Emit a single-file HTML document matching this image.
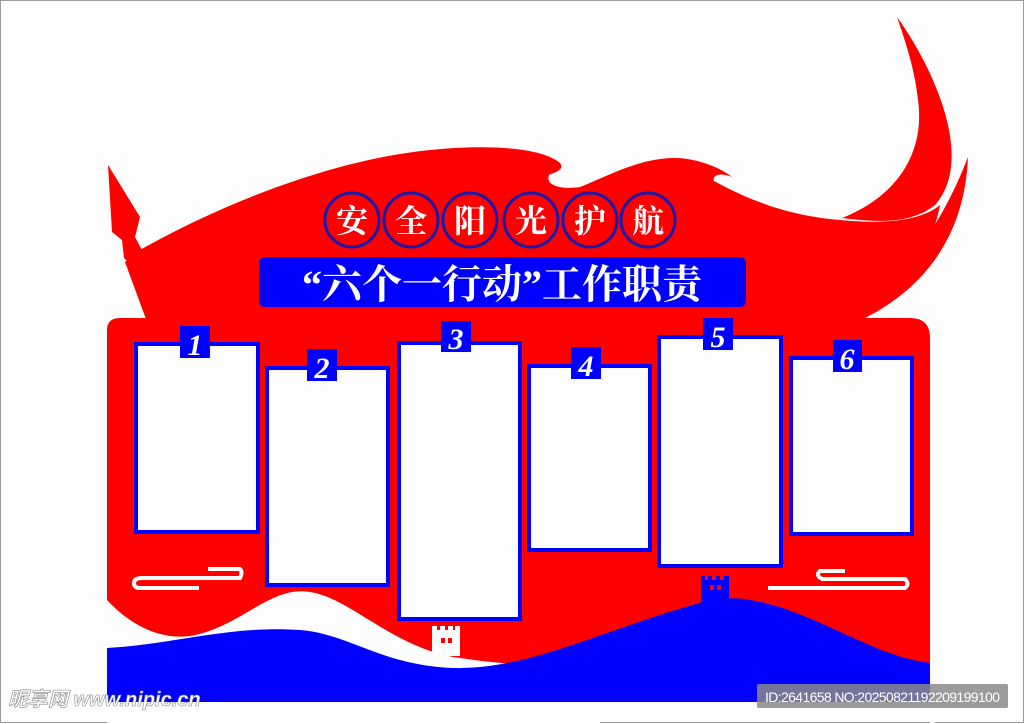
<!DOCTYPE html>
<html><head><meta charset="utf-8"><style>
html,body{margin:0;padding:0;background:#fdfdfd;}
body{width:1024px;height:724px;overflow:hidden;position:relative;font-family:"Liberation Serif","Noto Serif CJK SC",serif;}
</style></head><body>
<svg width="1024" height="724" viewBox="0 0 1024 724" xmlns="http://www.w3.org/2000/svg" style="position:absolute;left:0;top:0">
<rect x="0" y="0" width="1024" height="724" fill="#fdfdfd"/>
<rect x="0.5" y="0.5" width="1023" height="722" fill="none" stroke="#9a9a9a" stroke-width="1"/>
<!-- flame tail -->
<path d="M897,17 C935,70 975,160 935,205 C910,225 875,222 842,218 C900,195 925,150 918,100 C915,70 905,40 897,17 Z" fill="#ff0000"/>
<path d="M968,157 C965,230 930,285 865,318 L850,318 C900,280 940,230 968,157 Z" fill="#ff0000"/>
<!-- main flag body -->
<path d="M140,250 C220,205 330,160 430,150 C500,143 545,150 560,163 C565,170 555,172 549,175 C545,185 560,190 580,187 C610,175 640,158 675,158 C695,158 720,167 732,177 C720,172 712,175 714,181 C740,195 780,215 840,220 C880,224 920,222 940,205 C930,260 890,300 850,330 L150,330 L125,262 Z" fill="#ff0000"/>
<!-- spear -->
<path d="M108,165 L140,217 L135,237 L142,250 L128,262 L124,258 L122,240 L112,232 Z" fill="#ff0000"/>
<!-- main panel -->
<path d="M120,318 L910,318 Q930,318 930,338 L930,668 L107,668 L107,330 Q107,318 120,318 Z" fill="#ff0000"/>
<!-- white wave -->
<path d="M107,600 C130,625 160,640 190,636 C240,628 270,585 310,592 C350,598 390,645 453,657 C500,664 540,668 600,662 L600,724 L107,724 Z" fill="#fdfdfd"/>
<path d="M930,655 L935,655 L935,724 L930,724 Z" fill="#fdfdfd"/>
<!-- blue ground -->
<path d="M107,648 C170,645 230,625 300,630 C350,634 380,665 453,668 C530,670 600,630 713,599 C790,590 860,655 930,663 L930,702 L107,702 Z" fill="#0000ff"/>
<!-- towers -->
<g fill="#fdfdfd"><rect x="432" y="630" width="28" height="26"/><rect x="432" y="626" width="5" height="5"/><rect x="440" y="626" width="5" height="5"/><rect x="448" y="626" width="5" height="5"/><rect x="455" y="626" width="5" height="5"/></g>
<rect x="441" y="638" width="4" height="5" fill="#ff0000"/><rect x="448" y="638" width="4" height="5" fill="#ff0000"/>
<g fill="#0000ff"><rect x="701" y="580" width="28" height="22"/><rect x="701" y="576" width="4" height="5"/><rect x="708" y="576" width="4" height="5"/><rect x="716" y="576" width="4" height="5"/><rect x="724" y="576" width="5" height="5"/></g>
<rect x="710" y="585" width="4" height="5" fill="#ff0000"/><rect x="717" y="585" width="4" height="5" fill="#ff0000"/>
<!-- cloud ornaments -->
<g fill="none" stroke="#fdfdfd" stroke-width="4">
<path d="M199,588 L140,588 Q134,588 134,583 Q134,578 142,578 L240,578 Q243,572 240,569 L208,569"/>
<path d="M768,588 L905,588 Q910,584 905,579 L822,579 Q815,575 820,571 L845,571"/>
</g>
<!-- frames -->
<g fill="#fdfdfd" stroke="#0000ff" stroke-width="4">
<rect x="136" y="344" width="122" height="188"/>
<rect x="267" y="368" width="121" height="217"/>
<rect x="399" y="343" width="121" height="276"/>
<rect x="529" y="366" width="121" height="184"/>
<rect x="659" y="337" width="122" height="229"/>
<rect x="791" y="358" width="121" height="176"/>
</g>
<g fill="#0000ff">
<rect x="180" y="326" width="30" height="32"/><rect x="307" y="349" width="30" height="32"/><rect x="441" y="321" width="30" height="31"/>
<rect x="571" y="347" width="30" height="32"/><rect x="703" y="318" width="30" height="32"/><rect x="833" y="340" width="29" height="32"/>
</g>
<g fill="#fff" font-size="30" font-weight="bold" font-style="italic" text-anchor="middle" font-family="Liberation Serif, serif">
<text x="195" y="355">1</text><text x="322" y="378">2</text><text x="456" y="349">3</text>
<text x="586" y="376">4</text><text x="718" y="347">5</text><text x="847" y="369">6</text>
</g>
<!-- circles -->
<g fill="#ff0000" stroke="#1a1aa8" stroke-width="3">
<circle cx="352" cy="220" r="27"/><circle cx="411" cy="220" r="27"/><circle cx="470" cy="220" r="27"/>
<circle cx="531" cy="220" r="27"/><circle cx="590" cy="220" r="27"/><circle cx="648" cy="220" r="27"/>
</g>
<g fill="#fff" font-size="32" font-weight="bold" text-anchor="middle" font-family="Liberation Serif, Noto Serif CJK SC, serif">
<text x="352" y="232">安</text><text x="411" y="232">全</text><text x="470" y="232">阳</text>
<text x="531" y="232">光</text><text x="590" y="232">护</text><text x="648" y="232">航</text>
</g>
<!-- banner -->
<rect x="259" y="257" width="487" height="50" rx="6" fill="#0000ff"/>
<text x="502" y="298" fill="#fff" font-size="40" font-weight="bold" text-anchor="middle" font-family="Liberation Serif, Noto Serif CJK SC, serif">“六个一行动”工作职责</text>
<!-- watermarks -->
<text x="8" y="706" fill="#fff" stroke="#888" stroke-width="0.6" font-size="20" font-weight="bold" font-style="italic" font-family="Liberation Sans, Noto Sans CJK SC, sans-serif">昵享网 www.nipic.cn</text>
<rect x="757" y="684" width="251" height="24" rx="2" fill="#8a8a8a" opacity="0.85"/>
<text x="765" y="702" fill="#fff" font-size="14" font-family="Liberation Sans, sans-serif" textLength="235">ID:2641658 NO:20250821192209199100</text>
</svg>
</body></html>
